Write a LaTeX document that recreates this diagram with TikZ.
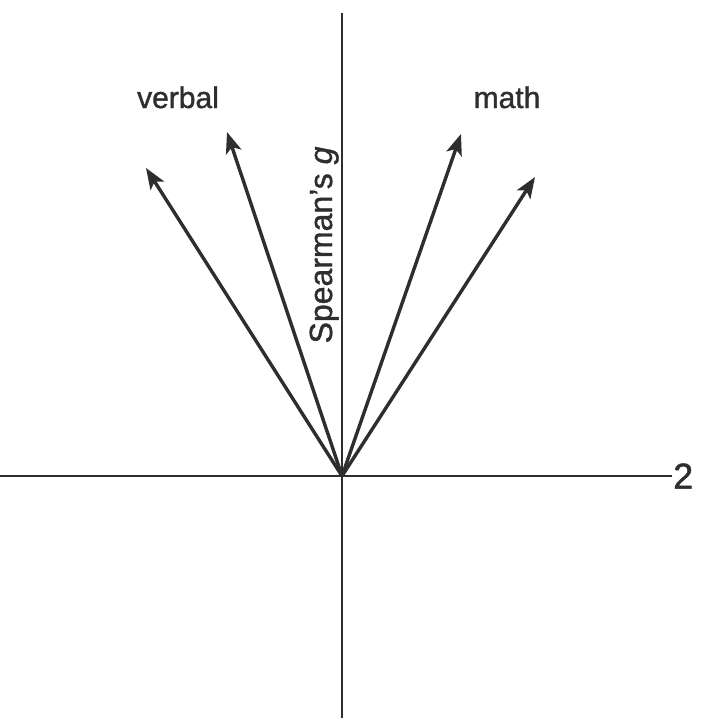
\documentclass[tikz,border=0pt]{standalone}
\usepackage{fontspec}
\setmainfont{Liberation Sans}
\newfontfamily\labfont[FakeBold=1.2,Ligatures=TeX]{Liberation Sans}
\usetikzlibrary{arrows.meta}
\definecolor{ink}{HTML}{2E2E2E}
\begin{document}
\begin{tikzpicture}[x=1pt,y=-1pt,
  axis/.style={line width=2.5pt, draw=ink},
  vec/.style={line width=3.4pt, draw=ink, -{Stealth[length=21pt,width=16pt,inset=5pt]}},
  lab/.style={text=ink, font=\labfont\fontsize{30}{36}\selectfont, inner sep=0pt}]
\useasboundingbox (0,0) rectangle (701,718);
\coordinate (O) at (342,476);
\coordinate (top) at (342,13);
\coordinate (bot) at (342,718);
\coordinate (left) at (0,476);
\coordinate (right) at (672,476);
\draw[axis] (top) -- (bot);
\draw[axis] (left) -- (right);
\node[lab, anchor=west, font=\labfont\fontsize{36}{40}\selectfont] (two) at (673,476) {2};
\coordinate (v1) at (146,168);
\coordinate (v2) at (227,132);
\coordinate (m1) at (461,134);
\coordinate (m2) at (535,177);
\draw[vec] (O) -- (v1);
\draw[vec] (O) -- (v2);
\draw[vec] (O) -- (m1);
\draw[vec] (O) -- (m2);
\node[lab, anchor=base] (verbal) at (178,108) {verbal};
\node[lab, anchor=base] (math) at (507,108) {math};
\node[lab, rotate=90, anchor=base, font=\labfont\fontsize{32}{36}\selectfont] (g) at (332,245) {Spearman’s \textit{g}};
\end{tikzpicture}
\end{document}
